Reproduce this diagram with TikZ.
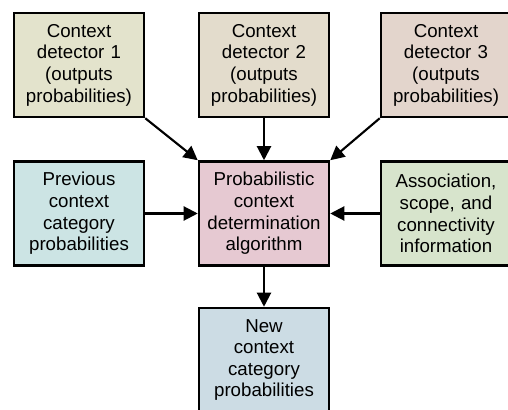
\documentclass[tikz,border=0pt]{standalone}
\usepackage{fontspec}
\setmainfont{Liberation Sans}
\usepackage{tikz}
\usetikzlibrary{arrows.meta}

\definecolor{detA}{RGB}{227,227,204}
\definecolor{detB}{RGB}{227,220,204}
\definecolor{detC}{RGB}{227,213,204}
\definecolor{prevc}{RGB}{204,228,228}
\definecolor{algc}{RGB}{230,201,210}
\definecolor{assoc}{RGB}{215,228,204}
\definecolor{newc}{RGB}{204,220,228}

\begin{document}
\begin{tikzpicture}
\tikzstyle{blk}=[rectangle, draw=black, line width=1.8pt, minimum width=3.25cm,
                 minimum height=2.6cm, text width=3.1cm, align=center, inner sep=0pt,
                 font=\fontsize{13.3}{15.4}\selectfont]
\tikzstyle{arr}=[line width=1.5pt, -{Triangle[length=10pt,width=10pt]}]
\clip (0,0) rectangle (12.7,10.25);
% detectors
\node[blk, fill=detA] (D1) at (1.975,8.625) {Context\\detector 1\\(outputs\\probabilities)};
\node[blk, fill=detB] (D2) at (6.6,8.625) {Context\\detector 2\\(outputs\\probabilities)};
\node[blk, fill=detC] (D3) at (11.15,8.625) {Context\\detector 3\\(outputs\\probabilities)};
% middle row
\node[blk, fill=prevc] (P) at (1.975,4.9125) {Previous\\context\\category\\probabilities};
\node[blk, fill=algc] (A) at (6.6,4.9125) {Probabilistic\\context\\determination\\algorithm};
\node[blk, fill=assoc] (S) at (11.15,4.9125) {Association,\\scope, and\\connectivity\\information};
% output
\node[blk, fill=newc] (N) at (6.6,1.25) {New\\context\\category\\probabilities};
\draw[arr] (D1.south east) -- (A.north west);
\draw[arr] (D2) -- (A);
\draw[arr] (D3.south west) -- (A.north east);
\draw[arr] (P) -- (A);
\draw[arr] (S) -- (A);
\draw[arr] (A) -- (N);
\end{tikzpicture}
\end{document}
